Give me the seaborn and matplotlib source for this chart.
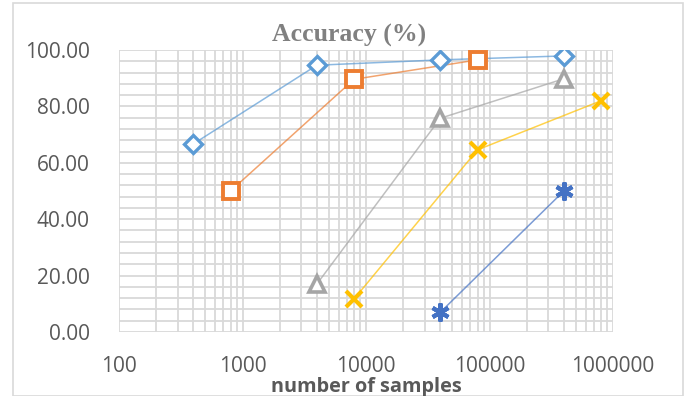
import matplotlib
matplotlib.use("Agg")
import matplotlib.pyplot as plt
from matplotlib.patches import Rectangle
from matplotlib.ticker import LogLocator, MultipleLocator, FixedLocator, FuncFormatter
import numpy as np
import pandas as pd
import seaborn as sns

# Accuracy (%) vs number of samples, one series per configuration
s1_x = [400, 4000, 40000, 400000]
s1_y = [66.7, 94.6, 96.5, 97.9]
s2_x = [800, 8000, 80000]
s2_y = [50.0, 89.6, 96.5]
s3_x = [4000, 40000, 400000]
s3_y = [17.0, 75.8, 89.8]
s4_x = [8000, 80000, 800000]
s4_y = [11.7, 64.6, 82.0]
s5_x = [40000, 400000]
s5_y = [7.0, 50.0]

x_ticks = [100, 1000, 10000, 100000, 1000000]
y_ticks = [0, 20, 40, 60, 80, 100]

series = [
    ("S1", s1_x, s1_y, "#5B9BD5", "D", 9.5, 2.4, True),
    ("S2", s2_x, s2_y, "#ED7D31", "s", 12, 2.8, True),
    ("S3", s3_x, s3_y, "#A5A5A5", "^", 12, 2.6, True),
    ("S4", s4_x, s4_y, "#FFC000", "x", 12, 3.0, False),
    ("S5", s5_x, s5_y, "#4472C4", (6, 2, 0), 13, 3.0, False),
]

sns.set_theme(style="white")
plt.rcParams["font.family"] = ["Open Sans", "DejaVu Sans"]

W, H = 691, 396
fig = plt.figure(figsize=(W / 100, H / 100), dpi=100)
fig.patch.set_facecolor("white")

# outer chart border
fig.add_artist(Rectangle((13 / W, 0), 670 / W, (H - 7) / H + 0.01,
                         transform=fig.transFigure, fill=False,
                         edgecolor="#D9D9D9", linewidth=1.2, zorder=0))

left, right, top, bottom = 119, 613, 50, 332
ax = fig.add_axes([left / W, 1 - bottom / H, (right - left) / W, (bottom - top) / H])

for name, xs, ys, color, marker, ms, mew, hollow in series:
    df = pd.DataFrame({"x": xs, "y": ys})
    sns.lineplot(data=df, x="x", y="y", ax=ax, color=color, linewidth=1.1,
                 alpha=0.7, sort=False, zorder=3)
    sns.lineplot(data=df, x="x", y="y", ax=ax, color=color, linestyle="",
                 marker=marker, markersize=ms, markeredgewidth=mew,
                 markerfacecolor="white" if hollow else color,
                 markeredgecolor=color, sort=False, zorder=4)

ax.set_xscale("log")
ax.set_xlim(100, 1000000)
ax.set_ylim(0, 100)
ax.xaxis.set_major_locator(FixedLocator(x_ticks))
ax.xaxis.set_minor_locator(LogLocator(base=10, subs=np.arange(2, 10)))
ax.xaxis.set_major_formatter(FuncFormatter(lambda v, p: f"{int(round(v))}"))
ax.xaxis.set_minor_formatter(FuncFormatter(lambda v, p: ""))
ax.yaxis.set_major_locator(FixedLocator(y_ticks))
ax.yaxis.set_minor_locator(MultipleLocator(4))
ax.yaxis.set_major_formatter(FuncFormatter(lambda v, p: f"{v:.2f}"))

ax.grid(True, which="both", color="#D9D9D9", linewidth=1.3)
ax.set_axisbelow(True)
for sp in ax.spines.values():
    sp.set_visible(False)

ax.tick_params(axis="both", which="both", length=0)
ax.tick_params(axis="y", pad=21, labelsize=15, labelcolor="#595959")
ax.tick_params(axis="x", pad=17, labelsize=15, labelcolor="#595959")

ax.set_xlabel("number of samples", fontsize=14.3, fontweight="bold",
              color="#595959", labelpad=0)
ax.set_ylabel("")

fig.text(349 / W, 1 - 35 / H, "Accuracy (%)", ha="center", va="center",
         fontsize=18.5, fontweight="bold", color="#808080",
         family=["Liberation Serif", "DejaVu Serif"])

fig.savefig("out.png", dpi=100)
